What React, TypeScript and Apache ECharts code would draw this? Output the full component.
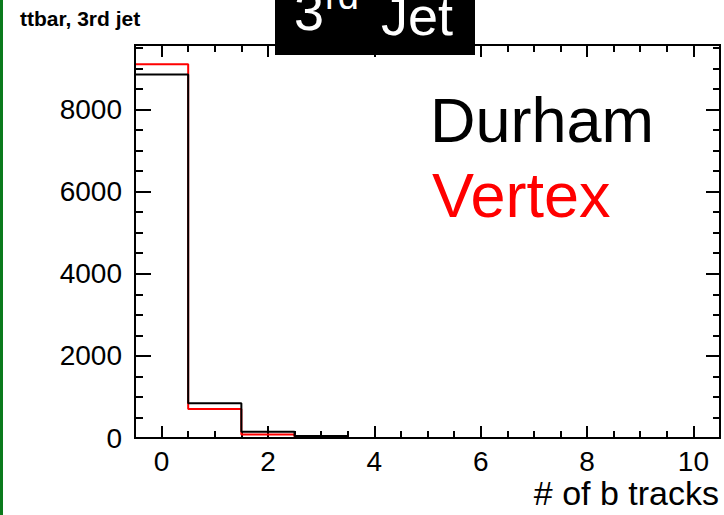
import React, { useEffect, useRef } from "react";
import * as echarts from "echarts";

// Histogram bin centres: 0..10 (# of b tracks), bin width 1
const binCenters = [0, 1, 2, 3, 4, 5, 6, 7, 8, 9, 10];
const durhamCounts = [8850, 845, 153, 50, 0, 0, 0, 0, 0, 0, 0];
const vertexCounts = [9100, 705, 85, 25, 0, 0, 0, 0, 0, 0, 0];

const xMajorTicks = [0, 2, 4, 6, 8, 10];
const xMinorTicks = [-0.5, 0.5, 1, 1.5, 2.5, 3, 3.5, 4.5, 5, 5.5, 6.5, 7, 7.5, 8.5, 9, 9.5, 10.5];
const yMajorTicks = [0, 2000, 4000, 6000, 8000];
const yMinorTicks = [500, 1000, 1500, 2500, 3000, 3500, 4500, 5000, 5500, 6500, 7000, 7500, 8500, 9000, 9500];

const X_MIN = -0.5;
const X_MAX = 10.5;
const Y_MAX = 9570;

function outline(centers: number[], values: number[]): number[][] {
  const pts: number[][] = [];
  const half = 0.5;
  pts.push([centers[0] - half, 0]);
  centers.forEach((c, i) => {
    pts.push([c - half, values[i]]);
    pts.push([c + half, values[i]]);
  });
  pts.push([centers[centers.length - 1] + half, 0]);
  return pts;
}

const FONT = "'Liberation Sans', Arial, Helvetica, sans-serif";

export default function App() {
  const ref = useRef<HTMLDivElement>(null);
  useEffect(() => {
    if (!ref.current) return;
    const chart = echarts.init(ref.current, null, { renderer: "svg" });
    const tickStyle = { color: "#000", width: 2 };
    const gridRect = { left: 135, top: 45, right: 4, bottom: 77 };
    const hiddenLine = { show: false, onZero: false };
    const xBase = { type: "value", min: X_MIN, max: X_MAX, interval: 0.5, splitLine: { show: false }, axisLine: hiddenLine };
    const yBase = { type: "value", min: 0, max: Y_MAX, interval: 500, splitLine: { show: false }, axisLine: hiddenLine };
    const noLabel = { show: false };
    const option: any = {
      animation: false,
      backgroundColor: "#fff",
      grid: [
        { ...gridRect, show: false },
        { ...gridRect, show: false },
      ],
      xAxis: [
        { ...xBase, gridIndex: 0, position: "bottom", axisTick: { inside: true, length: 12, customValues: xMajorTicks, lineStyle: tickStyle },
          axisLabel: { customValues: xMajorTicks, fontSize: 28, color: "#000", margin: 9, fontFamily: FONT, formatter: (v: number) => String(v) } },
        { ...xBase, gridIndex: 0, position: "top", axisTick: { inside: true, length: 12, customValues: xMajorTicks, lineStyle: tickStyle }, axisLabel: noLabel },
        { ...xBase, gridIndex: 1, position: "bottom", axisTick: { inside: true, length: 7, customValues: xMinorTicks, lineStyle: tickStyle }, axisLabel: noLabel },
        { ...xBase, gridIndex: 1, position: "top", axisTick: { inside: true, length: 7, customValues: xMinorTicks, lineStyle: tickStyle }, axisLabel: noLabel },
      ],
      yAxis: [
        { ...yBase, gridIndex: 0, position: "left", axisTick: { inside: true, length: 16, customValues: yMajorTicks, lineStyle: tickStyle },
          axisLabel: { customValues: yMajorTicks, fontSize: 28, color: "#000", margin: 13, fontFamily: FONT, formatter: (v: number) => String(v) } },
        { ...yBase, gridIndex: 0, position: "right", axisTick: { inside: true, length: 14, customValues: yMajorTicks, lineStyle: tickStyle }, axisLabel: noLabel },
        { ...yBase, gridIndex: 1, position: "left", axisTick: { inside: true, length: 8, customValues: yMinorTicks, lineStyle: tickStyle }, axisLabel: noLabel },
        { ...yBase, gridIndex: 1, position: "right", axisTick: { inside: true, length: 7, customValues: yMinorTicks, lineStyle: tickStyle }, axisLabel: noLabel },
      ],
      series: [
        { name: "Vertex", type: "line", xAxisIndex: 0, yAxisIndex: 0, data: outline(binCenters, vertexCounts), showSymbol: false, symbol: "none", silent: true,
          lineStyle: { color: "#ff0000", width: 2 }, z: 2 },
        { name: "Durham", type: "line", xAxisIndex: 0, yAxisIndex: 0, data: outline(binCenters, durhamCounts), showSymbol: false, symbol: "none", silent: true,
          lineStyle: { color: "#000", width: 2 }, z: 3 },
      ],
      graphic: [
        { type: "rect", shape: { x: 135, y: 45, width: 585, height: 393 }, style: { fill: "none", stroke: "#000", lineWidth: 2 }, z: 20 },
        { type: "rect", shape: { x: 0, y: 0, width: 3, height: 515 }, style: { fill: "#0b7a1c" }, z: 10 },
        { type: "rect", shape: { x: 275, y: -5, width: 200, height: 60 }, style: { fill: "#000" }, z: 10 },
        { type: "text", x: 294, y: 11, style: { text: "3", font: `54px ${FONT}`, fill: "#fff", textAlign: "left", textVerticalAlign: "middle" }, z: 11 },
        { type: "text", x: 325, y: -4, style: { text: "rd", font: `38px ${FONT}`, fill: "#fff", textAlign: "left", textVerticalAlign: "middle" }, z: 11 },
        { type: "text", x: 381, y: 16, style: { text: "Jet", font: `54px ${FONT}`, fill: "#fff", textAlign: "left", textVerticalAlign: "middle" }, z: 11 },
        { type: "text", x: 20, y: 18.6, style: { text: "ttbar, 3rd jet", font: `bold 21px ${FONT}`, fill: "#000", textAlign: "left", textVerticalAlign: "middle" }, z: 11 },
        { type: "text", x: 430, y: 119.5, style: { text: "Durham", font: `63px ${FONT}`, fill: "#000", textAlign: "left", textVerticalAlign: "middle" }, z: 11 },
        { type: "text", x: 432, y: 194.5, style: { text: "Vertex", font: `63px ${FONT}`, fill: "#ff0000", textAlign: "left", textVerticalAlign: "middle" }, z: 11 },
        { type: "text", x: 719, y: 493, style: { text: "# of b tracks", font: `34px ${FONT}`, fill: "#000", textAlign: "right", textVerticalAlign: "middle" }, z: 11 },
      ],
    };
    chart.setOption(option);
    return () => chart.dispose();
  }, []);
  return <div ref={ref} style={{ position: "fixed", left: 0, top: 0, width: 724, height: 515 }} />;
}
